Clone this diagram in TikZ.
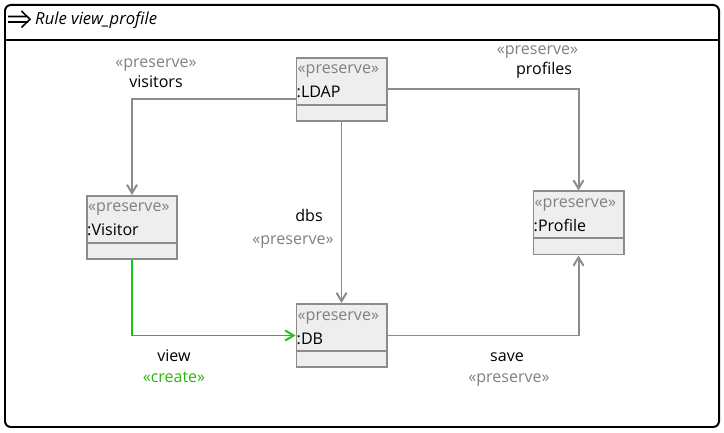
\documentclass[tikz,border=0pt]{standalone}
\usepackage{fontspec}
\setmainfont{Open Sans}
\usetikzlibrary{calc,arrows.meta}
\definecolor{hgray}{RGB}{128,128,128}
\definecolor{hline}{RGB}{140,140,140}
\definecolor{hfill}{RGB}{238,238,238}
\definecolor{hgreen}{RGB}{20,200,20}
\definecolor{htext}{RGB}{40,185,10}

\begin{document}
\begin{tikzpicture}[x=0.03cm,y=-0.03cm,
  font=\fontsize{13.7}{16}\selectfont,
  obj/.style={draw=hline, fill=hfill, line width=1.7pt, minimum width=2.7cm, minimum height=1.89cm, inner sep=0},
  stereo/.style={text=hgray, inner sep=0, anchor=base west},
  oname/.style={inner sep=0, anchor=base west},
  elabel/.style={inner sep=0, anchor=base},
  conn/.style={hline, line width=1.7pt, -{Straight Barb[length=0.25cm,width=0.3cm]}}]
\useasboundingbox (0,0) rectangle (724,433);

% Rule frame
\draw[line width=1.7pt, rounded corners=5] (5,5) rectangle (719,427);
\draw[line width=1.7pt] (5,40) -- (719,40);
\draw[line width=1.3pt] (8,16.5) -- (28,16.5) (8,22) -- (28,22) (21.5,11) -- (30,19.25) -- (21.5,27.5);
\node[inner sep=0, anchor=base west, font=\fontsize{14.2}{16}\selectfont\itshape] (title) at (35,25) {Rule view\_profile};

% Objects
\node[obj] (ldap) at (341.5,89.5) {};
\node[obj] (visitor) at (132,227.5) {};
\node[obj] (db) at (341.5,335.5) {};
\node[obj] (profile) at (578.5,223) {};

\foreach \o/\n in {ldap/LDAP, visitor/Visitor, db/DB, profile/Profile} {
  \draw[hline, line width=1.7pt] ($(\o.south west)+(0,-17)$) -- ($(\o.south east)+(0,-17)$);
  \node[stereo] (\o-st) at ($(\o.north west)+(2,17)$) {«preserve»};
  \node[oname] (\o-nm) at ($(\o.north west)+(1,41)$) {:\n};
}

% Edges
\draw[conn] ([yshift=-0.3cm]ldap.west) -| (visitor.north);
\draw[conn] (ldap.east) -| (profile.north);
\draw[conn] (ldap.south) -- (db.north);
\draw[conn, hgreen] (visitor.south) |- (db.west);
\draw[conn] (db.east) -| (profile.south);

% Edge labels
\node[elabel, text=hgray] (visitors-st) at (156,68) {«preserve»};
\node[elabel] (visitors) at (156,88) {visitors};
\node[elabel, text=hgray] (profiles-st) at (537.5,55) {«preserve»};
\node[elabel] (profiles) at (544,75) {profiles};
\node[elabel] (dbs) at (309,222) {dbs};
\node[elabel, text=hgray] (dbs-st) at (293,245) {«preserve»};
\node[elabel] (view) at (174,362) {view};
\node[elabel, text=htext] (view-st) at (174,383) {«create»};
\node[elabel] (save) at (507,362) {save};
\node[elabel, text=hgray] (save-st) at (509,383) {«preserve»};
\end{tikzpicture}
\end{document}
